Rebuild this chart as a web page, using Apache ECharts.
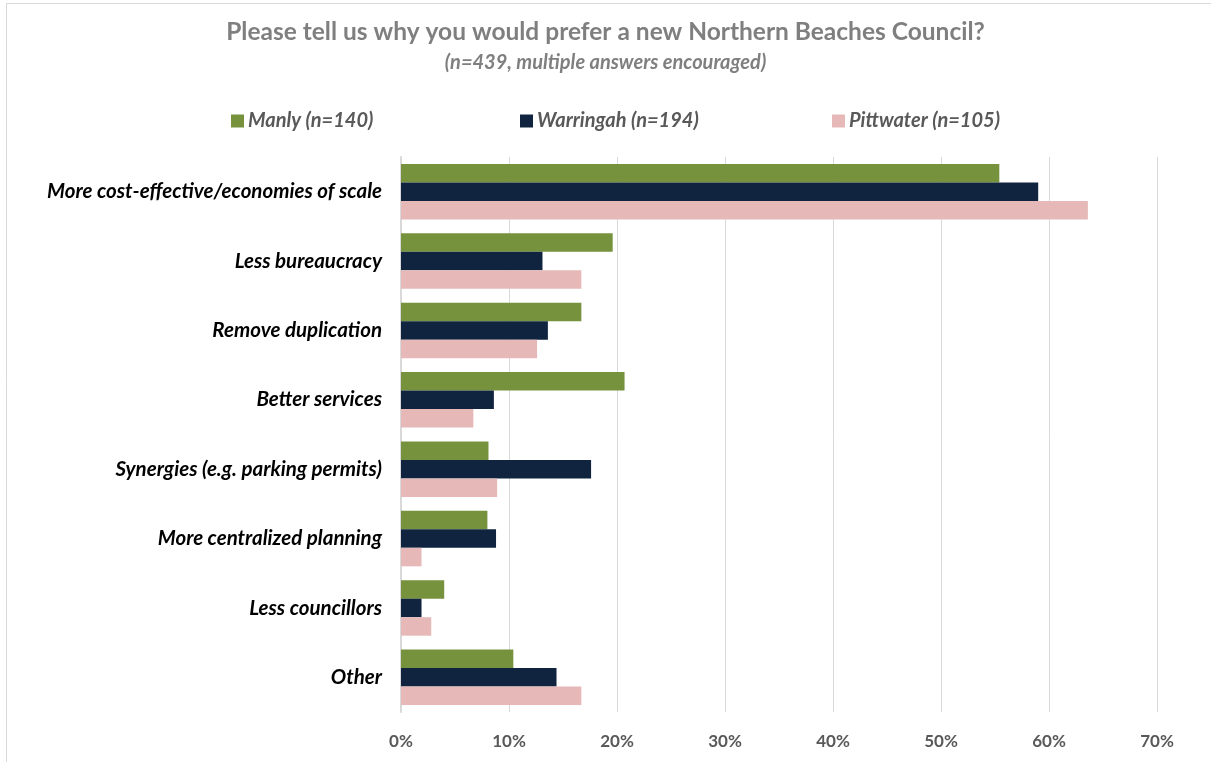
<!DOCTYPE html>
<html>
<head>
<meta charset="utf-8">
<script src="https://cdn.jsdelivr.net/npm/echarts@6/dist/echarts.min.js"></script>
<style>
html,body{margin:0;padding:0;background:#fff;}
#chart{width:1211px;height:762px;}
</style>
</head>
<body>
<div id="chart"></div>
<script>
const categories = [
  "More cost-effective/economies of scale",
  "Less bureaucracy",
  "Remove duplication",
  "Better services",
  "Synergies (e.g. parking permits)",
  "More centralized planning",
  "Less councillors",
  "Other"
];
const seriesNames = ["Manly (n=140)", "Warringah (n=194)", "Pittwater (n=105)"];
const manly = [55.4, 19.6, 16.7, 20.7, 8.1, 8.0, 4.0, 10.4];
const warringah = [59.0, 13.1, 13.6, 8.6, 17.6, 8.8, 1.9, 14.4];
const pittwater = [63.6, 16.7, 12.6, 6.7, 8.9, 1.9, 2.8, 16.7];
const xTicks = [0, 10, 20, 30, 40, 50, 60, 70];

const colors = ["#76923c", "#10243f", "#e6b9b8"];
const FONT = "Lato";

const chart = echarts.init(document.getElementById('chart'), null, {renderer: 'canvas'});

function legendAt(name, left) {
  return {
    left: left, top: 106,
    data: [name],
    icon: 'rect', itemWidth: 13, itemHeight: 13, itemGap: 6,
    textStyle: {fontFamily: FONT, fontSize: 20, fontWeight: 'bold', fontStyle: 'italic', color: '#595959', padding: [0, 0, 0, -1]}
  };
}

chart.setOption({
  animation: false,
  backgroundColor: '#ffffff',
  title: [{
    text: 'Please tell us why you would prefer a new Northern Beaches Council?',
    left: 'center', top: 15,
    textStyle: {fontFamily: FONT, fontSize: 24.5, fontWeight: 'bold', color: '#7f7f7f'}
  }, {
    text: '(n=439, multiple answers encouraged)',
    left: 'center', top: 48,
    textStyle: {fontFamily: FONT, fontSize: 20, fontWeight: 'bold', fontStyle: 'italic', color: '#7f7f7f'}
  }],
  legend: [legendAt(seriesNames[0], 226), legendAt(seriesNames[1], 515), legendAt(seriesNames[2], 827)],
  grid: {left: 401, right: 54, top: 157, bottom: 50, containLabel: false},
  xAxis: {
    type: 'value', min: 0, max: 70, interval: 10,
    axisLine: {show: false}, axisTick: {show: false},
    splitLine: {show: true, lineStyle: {color: '#d9d9d9', width: 1}},
    axisLabel: {
      formatter: v => xTicks.includes(v) ? v + '%' : '',
      margin: 21,
      fontFamily: FONT, fontSize: 17, fontWeight: 'bold', color: '#595959'
    }
  },
  yAxis: {
    type: 'category', data: categories, inverse: true,
    axisLine: {show: true, lineStyle: {color: '#d9d9d9', width: 2}},
    axisTick: {show: false},
    axisLabel: {
      margin: 19,
      fontFamily: FONT, fontSize: 20.5, fontWeight: 'bold', fontStyle: 'italic', color: '#000000'
    }
  },
  series: [
    {name: seriesNames[0], type: 'bar', data: manly, itemStyle: {color: colors[0]}, barGap: '0%', barCategoryGap: '20%'},
    {name: seriesNames[1], type: 'bar', data: warringah, itemStyle: {color: colors[1]}, barGap: '0%', barCategoryGap: '20%'},
    {name: seriesNames[2], type: 'bar', data: pittwater, itemStyle: {color: colors[2]}, barGap: '0%', barCategoryGap: '20%'}
  ],
  graphic: [
    {type: 'line', shape: {x1: 6, y1: 3.5, x2: 1211, y2: 3.5}, style: {stroke: '#d9d9d9', lineWidth: 1}, silent: true},
    {type: 'line', shape: {x1: 6.5, y1: 3, x2: 6.5, y2: 762}, style: {stroke: '#d9d9d9', lineWidth: 1}, silent: true}
  ]
});
</script>
</body>
</html>
